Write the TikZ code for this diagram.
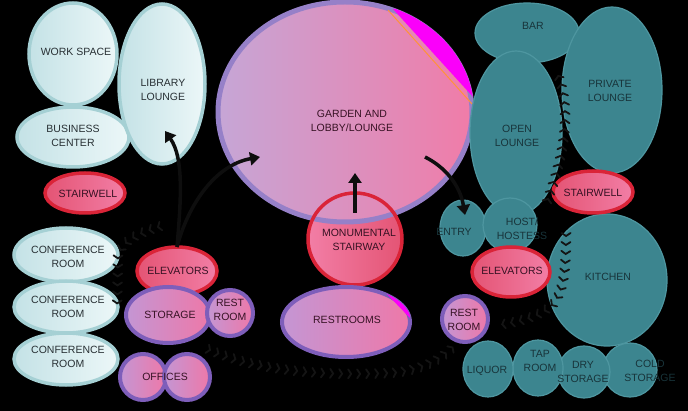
\documentclass[tikz,border=0pt]{standalone}
\usepackage{fontspec}
\setmainfont{Liberation Sans}
\usetikzlibrary{shapes.geometric,arrows.meta,decorations.markings}
\definecolor{cyfillA}{RGB}{196,226,230}
\definecolor{cyfillB}{RGB}{236,247,248}
\definecolor{cyline}{RGB}{165,208,212}
\definecolor{rdline}{RGB}{218,36,56}
\definecolor{rdfillA}{RGB}{228,84,116}
\definecolor{rdfillB}{RGB}{242,126,166}
\definecolor{puline}{RGB}{126,94,186}
\definecolor{pufillA}{RGB}{196,150,212}
\definecolor{pufillB}{RGB}{238,120,168}
\definecolor{gdline}{RGB}{150,128,200}
\definecolor{gdfillA}{RGB}{198,166,214}
\definecolor{gdfillB}{RGB}{240,124,168}
\definecolor{tlfill}{RGB}{60,133,143}
\definecolor{tlline}{RGB}{78,150,160}
\definecolor{txtcy}{RGB}{40,48,52}
\definecolor{txtrd}{RGB}{55,18,36}
\definecolor{txttl}{RGB}{24,52,58}
\definecolor{chevc}{RGB}{20,20,20}
\definecolor{arrc}{RGB}{14,14,14}
\definecolor{hotpink}{RGB}{250,0,250}
\tikzset{
  blob/.style={ellipse, inner sep=0pt, outer sep=0pt},
  cyblob/.style={blob, draw=cyline, line width=3.5pt, left color=cyfillA, right color=cyfillB},
  rdblob/.style={blob, draw=rdline, line width=3.5pt, left color=rdfillA, right color=rdfillB},
  publob/.style={blob, draw=puline, line width=4pt, left color=pufillA, right color=pufillB},
  tlblob/.style={blob, draw=tlline, line width=1.2pt, fill=tlfill},
  lbl/.style={font=\fontsize{10.5}{14}\selectfont, align=center, inner sep=0pt},
  lblcy/.style={lbl, text=txtcy},
  lblrd/.style={lbl, text=txtrd},
  lbltl/.style={lbl, text=txttl},
  bigarrow/.style={draw=arrc, line width=3.5pt, -{Triangle[length=10pt,width=13pt]}},
  chevpath/.style={postaction={decorate}, decoration={markings,
      mark=between positions 0 and 1 step 9pt with {\draw[draw=chevc, line width=1.8pt, line cap=round] (-3pt,4.5pt) -- (0pt,0pt) -- (-3pt,-4.5pt);}}},
}
\begin{document}
\begin{tikzpicture}[x=1pt,y=-1pt]
\fill[black] (0,0) rectangle (688,411);
\useasboundingbox (0,0) rectangle (688,411);

% ---- left cluster (light cyan)
\node[cyblob, minimum width=88pt, minimum height=102pt] (ws) at (73,54) {};
\node[cyblob, minimum width=112pt, minimum height=60pt] (biz) at (73,137) {};
\node[cyblob, minimum width=86pt, minimum height=160pt] (lib) at (162,84) {};
\node[cyblob, minimum width=104pt, minimum height=54pt] (conf1) at (66,255) {};
\node[cyblob, minimum width=104pt, minimum height=52pt] (conf2) at (66,307) {};
\node[cyblob, minimum width=104pt, minimum height=52pt] (conf3) at (66,359) {};
\node[rdblob, minimum width=80pt, minimum height=40pt] (stL) at (85,193) {};
\node[rdblob, minimum width=80pt, minimum height=48pt] (elL) at (177,271) {};
\node[publob, minimum width=84pt, minimum height=56pt] (storage) at (168,315) {};
\node[publob, minimum width=46pt, minimum height=46pt] (restL) at (230,313) {};
\node[publob, minimum width=46pt, minimum height=46pt] (offA) at (143,377) {};
\node[publob, minimum width=46pt, minimum height=46pt] (offB) at (187,377) {};

% ---- centre
\fill[left color=rdfillB, right color=rdfillA] (355,239) ellipse [x radius=47pt, y radius=46pt];
\node[blob, draw=gdline, line width=5pt, left color=gdfillA, right color=gdfillB, minimum width=254pt, minimum height=220pt] (garden) at (345,112) {};
\begin{scope}
  \clip (345,112) ellipse [x radius=129pt, y radius=112pt];
  \fill[hotpink] (393,9) -- (474,98) -- (480,0) -- cycle;
  \draw[orange!70!pink, line width=1pt] (388,10) -- (472,104);
\end{scope}
\node[blob, draw=rdline, line width=3.5pt, minimum width=94pt, minimum height=92pt] (stair) at (355,239) {};
\node[publob, minimum width=128pt, minimum height=70pt] (restrooms) at (346,322) {};
\begin{scope}
  \clip (346,322) ellipse [x radius=65pt, y radius=36pt];
  \fill[hotpink] (384,291) -- (410,318) -- (412,288) -- cycle;
\end{scope}

% ---- right cluster (teal)
\node[tlblob, minimum width=104pt, minimum height=60pt] (bar) at (527,33) {};
\node[tlblob, minimum width=92pt, minimum height=164pt] (open) at (516,133) {};
\node[tlblob, minimum width=100pt, minimum height=166pt] (priv) at (612,90) {};
\node[tlblob, minimum width=46pt, minimum height=56pt] (entry) at (463,228) {};
\node[tlblob, minimum width=54pt, minimum height=54pt] (host) at (510,225) {};
\node[tlblob, minimum width=120pt, minimum height=132pt] (kitchen) at (607,280) {};
\node[rdblob, minimum width=80pt, minimum height=42pt] (stR) at (593,192) {};
\node[rdblob, minimum width=78pt, minimum height=50pt] (elR) at (511,272) {};
\node[publob, minimum width=46pt, minimum height=46pt] (restR) at (465,319) {};
\node[tlblob, minimum width=54pt, minimum height=54pt] (cold) at (630,370) {};
\node[tlblob, minimum width=52pt, minimum height=52pt] (dry) at (584,372) {};
\node[tlblob, minimum width=50pt, minimum height=56pt] (tap) at (538,368) {};
\node[tlblob, minimum width=50pt, minimum height=56pt] (liquor) at (488,369) {};

% ---- chevron paths
\coordinate (c1a) at (158,227);
\coordinate (c1b) at (117,312);
\path[chevpath] (c1a) .. controls (140,233) and (122,240) .. (118,256) -- (c1b);
\coordinate (c2a) at (210,350);
\coordinate (c2b) at (453,347);
\path[chevpath] (c2a) .. controls (260,372) and (330,376) .. (390,373) .. controls (420,371) and (440,360) .. (c2b);
\coordinate (c3a) at (566,236);
\coordinate (c3b) at (497,325);
\path[chevpath] (c3a) .. controls (566,268) and (564,292) .. (552,305) .. controls (540,316) and (520,322) .. (c3b);
\coordinate (c4a) at (548,199);
\coordinate (c4b) at (556,70);
\path[chevpath] (c4a) .. controls (562,160) and (574,112) .. (c4b);

% ---- arrows
\coordinate (a1e) at (165,131);
\coordinate (a2e) at (260,157);
\coordinate (a3s) at (425,157);
\coordinate (a3e) at (465,215);
\coordinate (a4s) at (355,213);
\coordinate (a4e) at (355,173);
\draw[bigarrow] (elL.north) .. controls (181,200) and (184,158) .. (a1e);
\draw[bigarrow] (elL.north) .. controls (188,205) and (215,165) .. (a2e);
\draw[bigarrow] (a3s) .. controls (445,167) and (460,185) .. (a3e);
\draw[bigarrow] (a4s) -- (a4e);

% ---- labels
\node[lblcy] (tws) at (76,52) {WORK SPACE};
\node[lblcy] (tlib) at (163,90) {LIBRARY\\LOUNGE};
\node[lblcy] (tbiz) at (73,136) {BUSINESS\\CENTER};
\node[lblrd] (tstL) at (88,194) {STAIRWELL};
\node[lblcy] (tc1) at (68,257) {CONFERENCE\\ROOM};
\node[lblcy] (tc2) at (68,307) {CONFERENCE\\ROOM};
\node[lblcy] (tc3) at (68,357) {CONFERENCE\\ROOM};
\node[lblrd] (telL) at (178,271) {ELEVATORS};
\node[lblrd] (tsto) at (170,315) {STORAGE};
\node[lblrd] (trL) at (230,310) {REST\\ROOM};
\node[lblrd] (toff) at (165,377) {OFFICES};
\node[lblrd] (tgar) at (352,121) {GARDEN AND\\LOBBY/LOUNGE};
\node[lblrd] (tstair) at (359,240) {MONUMENTAL\\STAIRWAY};
\node[lblrd] (trr) at (347,320) {RESTROOMS};
\node[lbltl] (tbar) at (533,26) {BAR};
\node[lbltl] (tpriv) at (610,91) {PRIVATE\\LOUNGE};
\node[lbltl] (topen) at (517,136) {OPEN\\LOUNGE};
\node[lblrd] (tstR) at (593,193) {STAIRWELL};
\node[lbltl] (tentry) at (454,232) {ENTRY};
\node[lbltl] (thost) at (522,229) {HOST/\\HOSTESS};
\node[lblrd] (telR) at (512,271) {ELEVATORS};
\node[lbltl] (tkit) at (608,277) {KITCHEN};
\node[lblrd] (trR) at (464,320) {REST\\ROOM};
\node[lbltl] (tliq) at (487,371) {LIQUOR};
\node[lbltl] (ttap) at (540,361) {TAP\\ROOM};
\node[lbltl] (tdry) at (583,372) {DRY\\STORAGE};
\node[lbltl] (tcold) at (650,371) {COLD\\STORAGE};
\end{tikzpicture}
\end{document}
